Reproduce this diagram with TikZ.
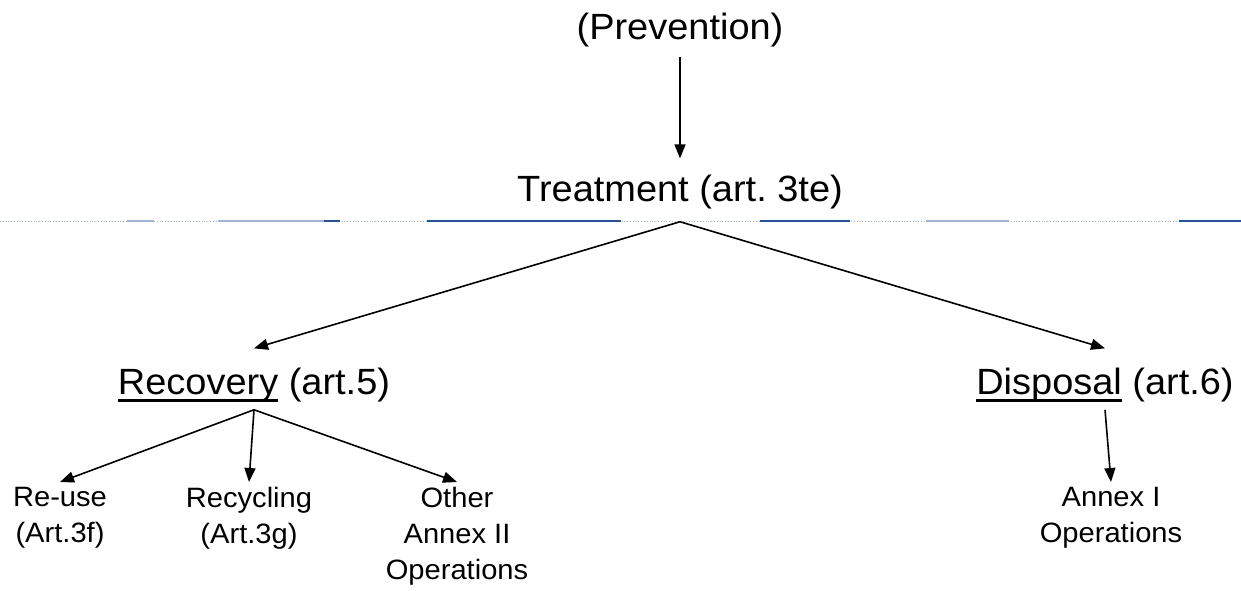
\documentclass[tikz,border=0pt]{standalone}
\usepackage{fontspec}
\setmainfont[FakeStretch=1.04]{Liberation Sans}
\usetikzlibrary{arrows.meta}
\definecolor{rulelight}{HTML}{9DB5DE}
\definecolor{ruledark}{HTML}{1F55A8}
\newcommand\uline[1]{\setbox0=\hbox{#1}\rlap{\rule[-7.5pt]{\wd0}{2.4pt}}\box0\relax}
\frenchspacing
\begin{document}
\begin{tikzpicture}[x=1pt,y=-1pt]
\useasboundingbox (0,0) rectangle (1241,591);
\tikzstyle{big}=[inner sep=0pt, anchor=base, font=\fontsize{36.5}{42}\selectfont]
\tikzstyle{small}=[inner sep=0pt, anchor=north, align=center,
                   font=\fontsize{28}{36}\selectfont]
\tikzstyle{arr}=[line width=1.6pt, -{Triangle[length=14pt,width=11pt]}]
\draw[rulelight, line width=0.8pt, dotted] (0,221) -- (1241,221);
\foreach \a/\b in {127/154,218/324,926/1009}{
	\draw[rulelight, line width=1.4pt] (\a,221) -- (\b,221);
	}
\foreach \a/\b in {324/340,427/621,760/850,1179/1241}{
	\draw[ruledark, line width=1.4pt] (\a,221) -- (\b,221);
	}
\node[big] (prevention) at (680,40){(Prevention)};
\node[big] (treatment) at (680,201){Treatment (art. 3te)};
\node[big] (recovery) at (254,394){\uline{Recovery} (art.5)};
\node[big] (disposal) at (1105,394){\uline{Disposal} (art.6)};
\node[small] (reuse) at (60,487){Re-use\\(Art.3f)};
\node[small] (recycling) at (249,487){Recycling\\(Art.3g)};
\node[small] (other) at (457,487){Other\\Annex II\\Operations};
\node[small] (annex) at (1111,487){Annex I\\Operations};
\draw[arr] ([yshift=-9pt]prevention.south) -- ([yshift=16pt]treatment.north);
\foreach \k in {recovery,disposal}{
	\draw[arr] ([yshift=-13pt]treatment.south) -- ([yshift=19pt]\k.north);
	}
\foreach \k in {reuse,recycling,other}{
	\draw[arr] ([yshift=-8pt]recovery.south) -- ([yshift=5pt]\k.north);
	}
\draw[arr] ([yshift=-8pt]disposal.south) -- ([yshift=5pt]annex.north);
\end{tikzpicture}
\end{document}
